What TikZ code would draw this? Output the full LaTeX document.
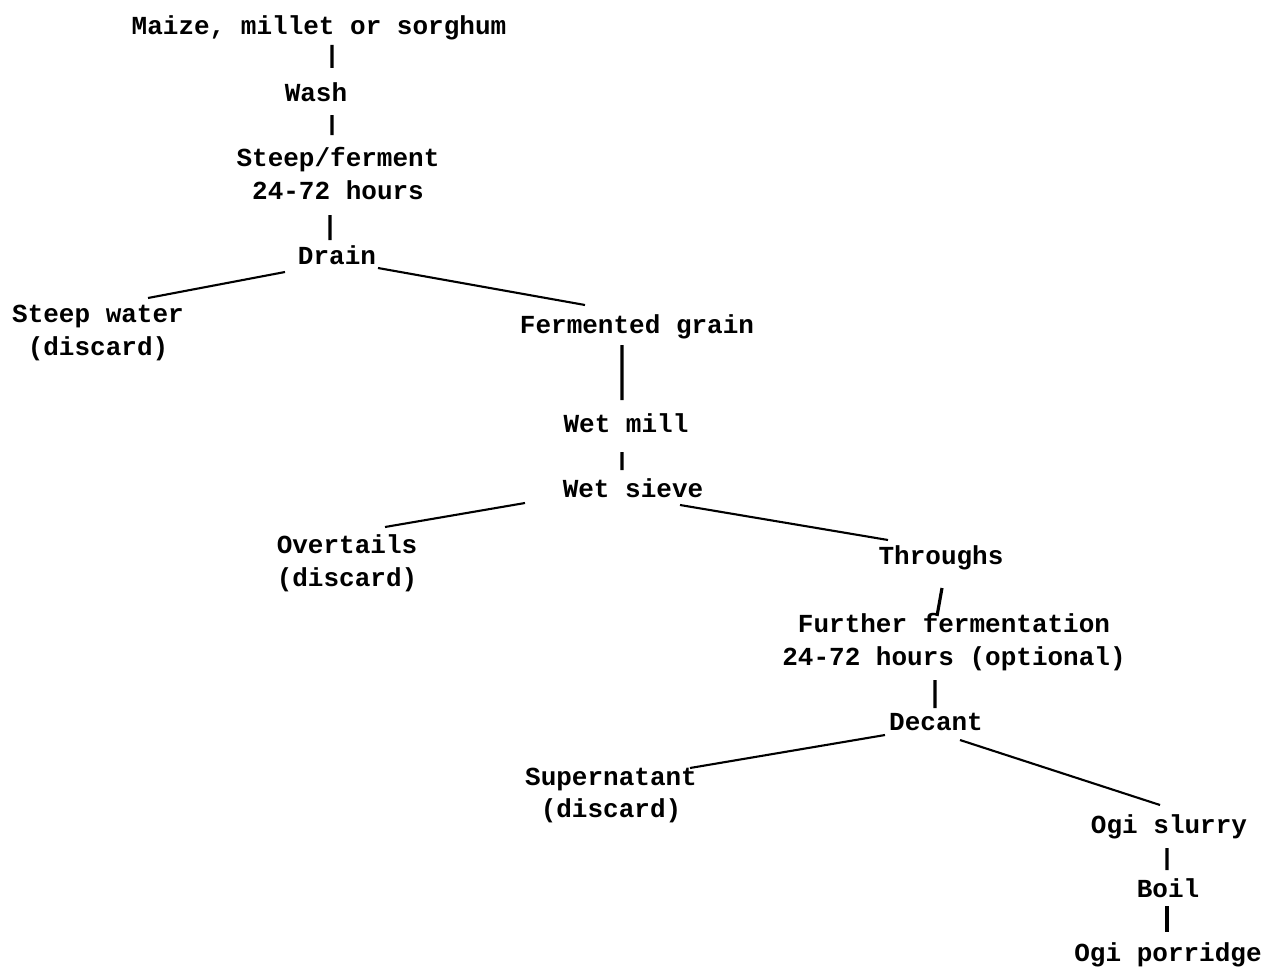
\documentclass[tikz,border=0pt]{standalone}
\usepackage{fontspec}
\setmonofont{Liberation Mono}
\usepackage{tikz}
\usetikzlibrary{calc}

\begin{document}
\begin{tikzpicture}[line width=1.2pt,every node/.style={inner sep=0pt,align=center,font=\ttfamily\bfseries\fontsize{14.8}{18.7}\selectfont}]
\useasboundingbox (0,0) rectangle (25.58,-19.4);
\node (maize) at (6.38,-0.56) {Maize, millet or sorghum};
\node (wash) at (6.32,-1.84) {Wash};
\node (steep) at (6.76,-3.47) {Steep/ferment\\24-72 hours};
\node (drain) at (6.74,-5.10) {Drain};
\node (steepwater) at (1.96,-6.66) {Steep water\\(discard)};
\node (grain) at (12.74,-6.54) {Fermented grain};
\node (wetmill) at (12.52,-8.46) {Wet mill};
\node (wetsieve) at (12.66,-9.76) {Wet sieve};
\node (overtails) at (6.94,-11.26) {Overtails\\(discard)};
\node (throughs) at (18.82,-11.16) {Throughs};
\node (further) at (19.08,-12.85) {Further fermentation\\24-72 hours (optional)};
\node (decant) at (18.72,-14.44) {Decant};
\node (supernatant) at (12.22,-15.91) {Supernatant\\(discard)};
\node (slurry) at (23.38,-16.54) {Ogi slurry};
\node (boil) at (23.36,-17.76) {Boil};
\node (porridge) at (23.36,-19.10) {Ogi porridge};
\draw[-,line width=1.8pt] ($(maize)+(0.26,-0.34)$) -- ($(wash)+(0.32,0.48)$);
\draw[-,line width=1.8pt] ($(wash)+(0.32,-0.46)$) -- ($(steep)+(-0.12,0.77)$);
\draw[-,line width=1.8pt] ($(steep)+(-0.16,-0.83)$) -- ($(drain)+(-0.14,0.30)$);
\draw[-] ($(drain)+(-1.04,-0.34)$) -- ($(steepwater)+(1.00,0.70)$);
\draw[-] ($(drain)+(0.82,-0.26)$) -- ($(grain)+(-1.04,0.44)$);
\draw[-,line width=1.8pt] ($(grain)+(-0.30,-0.36)$) -- ($(wetmill)+(-0.08,0.46)$);
\draw[-,line width=1.8pt] ($(wetmill)+(-0.08,-0.58)$) -- ($(wetsieve)+(-0.22,0.36)$);
\draw[-] ($(wetsieve)+(-2.16,-0.30)$) -- ($(overtails)+(0.76,0.72)$);
\draw[-] ($(wetsieve)+(0.94,-0.34)$) -- ($(throughs)+(-1.06,0.36)$);
\draw[-,line width=1.8pt] ($(throughs)+(0.02,-0.60)$) -- ($(further)+(-0.34,0.53)$);
\draw[-,line width=1.8pt] ($(further)+(-0.38,-0.75)$) -- ($(decant)+(-0.02,0.28)$);
\draw[-] ($(decant)+(-1.02,-0.26)$) -- ($(supernatant)+(1.58,0.55)$);
\draw[-] ($(decant)+(0.48,-0.36)$) -- ($(slurry)+(-0.18,0.44)$);
\draw[-,line width=1.8pt] ($(slurry)+(-0.04,-0.42)$) -- ($(boil)+(-0.02,0.36)$);
\draw[-,line width=1.8pt] ($(boil)+(-0.02,-0.36)$) -- ($(porridge)+(-0.02,0.46)$);
\end{tikzpicture}
\end{document}
